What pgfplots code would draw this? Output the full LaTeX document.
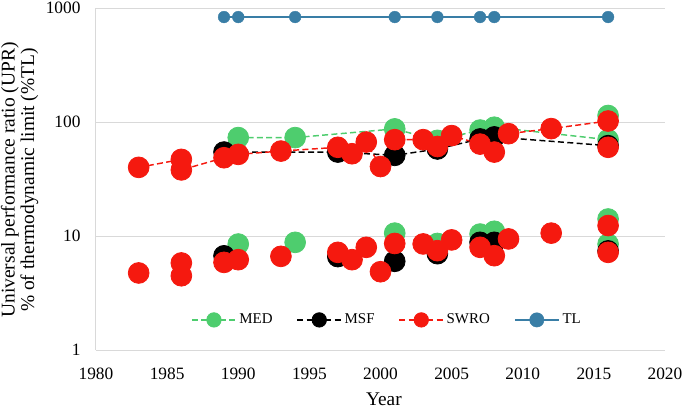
\documentclass[border=0pt]{standalone}
\usepackage{fontspec}
\setmainfont{Liberation Serif}
\usepackage{pgfplots}
\pgfplotsset{compat=1.18}
\definecolor{medgreen}{RGB}{78,205,110}
\definecolor{swred}{RGB}{245,25,15}
\definecolor{tlblue}{RGB}{57,126,166}
\definecolor{gridgray}{RGB}{217,217,217}
\begin{document}
\begin{tikzpicture}
\useasboundingbox (-72pt,-45.75pt) rectangle (441.75pt,262.5pt);
\begin{axis}[
  scale only axis, width=426.75pt, height=256.5pt,
  at={(0,0)}, anchor=south west,
  ymode=log, xmin=1980, xmax=2020, ymin=1, ymax=1000,
  xtick={1980,1985,1990,1995,2000,2005,2010,2015,2020},
  xticklabels={1980,1985,1990,1995,2000,2005,2010,2015,2020},
  ytick={1,10,100,1000},
  yticklabels={1,10,100,1000},
  ymajorgrids, major grid style={gridgray, line width=0.75pt},
  axis lines=left, axis line style={gridgray, line width=0.75pt, -},
  tick style={draw=none},
  ticklabel style={font=\rmfamily\fontsize{13}{15}\selectfont},
  xticklabel style={yshift=-7.5pt},
  yticklabel style={xshift=-6pt},
  xlabel={Year},
  ylabel={Universal performance ratio (UPR)\\\% of thermodynamic limit (\%TL)},
  xlabel style={font=\rmfamily\fontsize{14.5}{16}\selectfont, at={(axis description cs:0.506,-0.143)}, anchor=center},
  ylabel style={font=\rmfamily\fontsize{14.6}{14.6}\selectfont, align=center, at={(axis description cs:-0.1344,0.497)}, anchor=center},
  legend columns=4,
  legend style={draw=none, fill=none, at={(axis description cs:0.512,0.088)}, anchor=center,
    font=\rmfamily\fontsize{11.2}{13}\selectfont,
    /tikz/every even column/.append style={column sep=16pt}},
  legend image code/.code={\draw[#1, mark size=5.4pt] plot coordinates {(0pt,0pt) (16.5pt,0pt) (33pt,0pt)};},
  legend image post style={mark repeat=2, mark phase=2},
]
% MED
\addplot[medgreen, line width=1.1pt, dash pattern=on 4.5pt off 2.5pt, mark=*, mark size=7.8pt,
  mark options={solid, fill=medgreen, draw=medgreen, line width=0.6pt}]
  coordinates {(1990,73) (1994,73) (2001,87) (2004,69) (2007,85) (2008,90) (2016,70) (2016,114)};
\addlegendentry{MED}
\addplot[forget plot, only marks, mark=*, mark size=7.8pt,
  mark options={solid, fill=medgreen, draw=medgreen, line width=0.6pt}]
  coordinates {(1990,8.5) (1994,8.8) (2001,10.6) (2004,8.6) (2007,10.4) (2008,11.0) (2016,14.1) (2016,8.5)};
% MSF
\addplot[black, line width=1.1pt, dash pattern=on 4.5pt off 2.5pt, mark=*, mark size=7.8pt,
  mark options={solid, fill=black, draw=black, line width=0.6pt}]
  coordinates {(1989,54.5) (1997,54.5) (2001,51) (2004,58) (2007,71) (2008,74) (2016,62)};
\addlegendentry{MSF}
\addplot[forget plot, only marks, mark=*, mark size=7.8pt,
  mark options={solid, fill=black, draw=black, line width=0.6pt}]
  coordinates {(1989,6.7) (1997,6.6) (2001,6.0) (2004,7.0) (2007,8.8) (2008,8.8) (2016,7.4)};
% SWRO
\addplot[swred, line width=1.1pt, dash pattern=on 4.5pt off 2.5pt, mark=*, mark size=7.8pt,
  mark options={solid, fill=swred, draw=swred, line width=0.6pt}]
  coordinates {(1983,40) (1986,47) (1986,38) (1989,48.6) (1990,52) (1993,55.6) (1997,60) (1998,52.7) (1999,66.7) (2000,40.7) (2001,70) (2003,70) (2004,61) (2005,76) (2007,64) (2008,54.5) (2009,79) (2012,87.5) (2016,102) (2016,60)};
\addlegendentry{SWRO}
\addplot[forget plot, only marks, mark=*, mark size=7.8pt,
  mark options={solid, fill=swred, draw=swred, line width=0.6pt}]
  coordinates {(1983,4.74) (1986,5.8) (1986,4.48) (1989,5.87) (1990,6.2) (1993,6.63) (1997,7.19) (1998,6.2) (1999,7.96) (2000,4.86) (2001,8.6) (2003,8.52) (2004,7.44) (2005,9.24) (2007,7.96) (2008,6.72) (2009,9.43) (2012,10.6) (2016,12.35) (2016,7.19)};
% TL
\addplot[tlblue, line width=1.5pt, mark=*, mark size=4.4pt,
  mark options={solid, fill=tlblue, draw=tlblue, line width=0.3pt}]
  coordinates {(1989,833) (1990,833) (1994,833) (2001,833) (2004,833) (2007,833) (2008,833) (2016,833)};
\addlegendentry{TL}
\end{axis}
\end{tikzpicture}
\end{document}
